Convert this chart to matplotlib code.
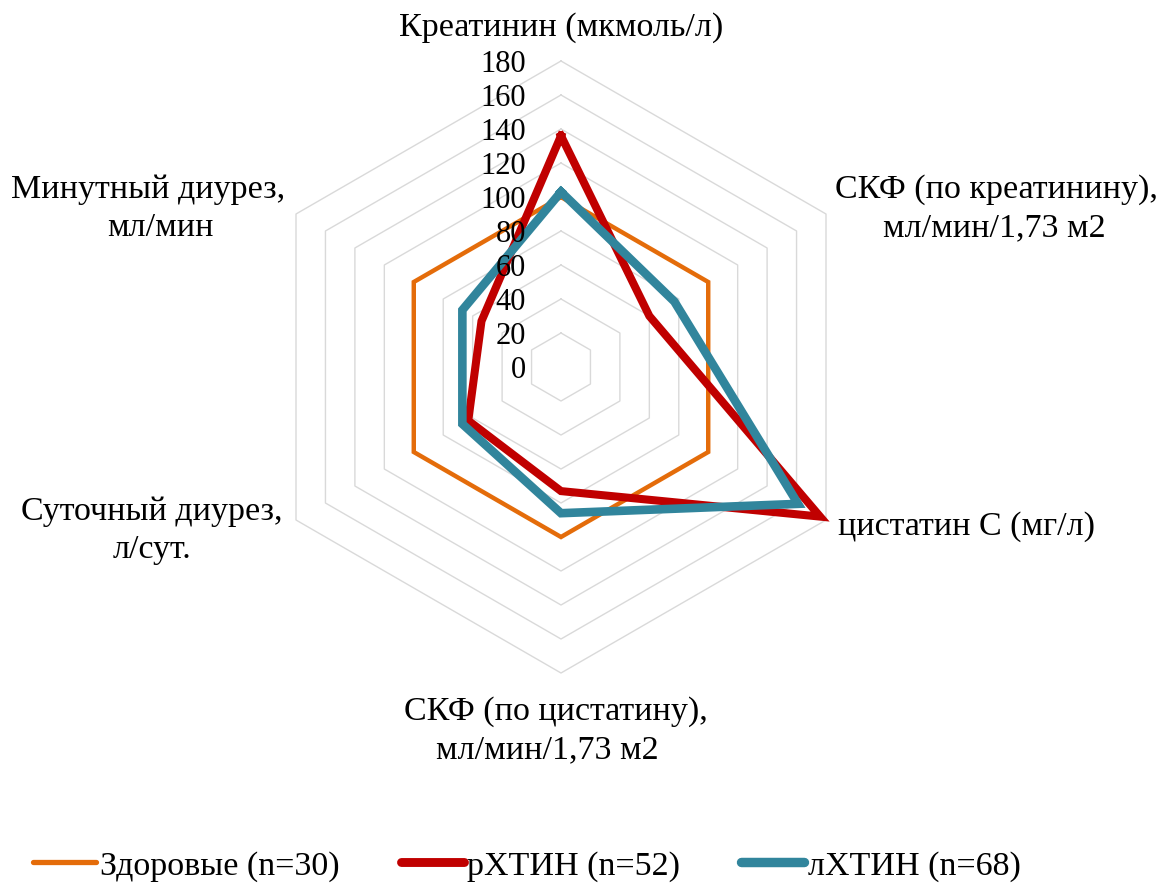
import numpy as np
import matplotlib.pyplot as plt
from matplotlib.lines import Line2D

plt.rcParams['font.family'] = ['Liberation Serif', 'DejaVu Serif']

categories = ['Креатинин (мкмоль/л)',
              'СКФ (по креатинину),\nмл/мин/1,73 м2',
              'цистатин С (мг/л)',
              'СКФ (по цистатину),\nмл/мин/1,73 м2',
              'Суточный диурез,\nл/сут.',
              'Минутный диурез,\nмл/мин']
healthy = [100, 100, 100, 100, 100, 100]
r_xtin = [136, 60, 176, 73, 63, 54]
l_xtin = [103, 77, 161, 86, 67, 67]
ticks = list(range(0, 181, 20))
names = ['Здоровые (n=30)', 'рХТИН (n=52)', 'лХТИН (n=68)']
colors = ['#E46C0A', '#C00000', '#31859C']
widths = [3.2, 5.8, 6.2]

W, H = 1159, 888
cx, cy = 561, 367       # centre of the web, pixels
scale = 1.7             # pixels per unit
fs = 24.5

fig = plt.figure(figsize=(W / 100, H / 100), dpi=100)
ax = fig.add_axes([0, 0, 1, 1])
ax.set_xlim(-cx / scale, (W - cx) / scale)
ax.set_ylim(-(H - cy) / scale, cy / scale)
ax.axis('off')


def px(x, y):
    return (x - cx) / scale, (cy - y) / scale


ang = np.deg2rad(90 - 60 * np.arange(7))


def poly(vals):
    v = np.r_[vals, vals[0]]
    return v * np.cos(ang), v * np.sin(ang)


# hexagon grid
for t in ticks[1:]:
    x, y = poly([t] * 6)
    ax.plot(x, y, color='#D9D9D9', lw=1.0, zorder=1)

# series
for vals, c, w in zip([healthy, r_xtin, l_xtin], colors, widths):
    x, y = poly(vals)
    ax.plot(x, y, color=c, lw=w, solid_joinstyle='miter', zorder=3)

# radial tick labels (drawn over the lines), digits centred on the ring
for t in ticks:
    ax.text(px(526, 0)[0], t - 2.3, str(t), ha='right', va='center',
            fontsize=22, zorder=4)

# category labels: (line, centre x, centre y) in pixels
label_lines = [
    [(categories[0], 561, 28)],
    [(categories[1].split('\n')[0], 996, 190), (categories[1].split('\n')[1], 994, 228)],
    [(categories[2], 838, 527)],
    [(categories[3].split('\n')[0], 556, 712), (categories[3].split('\n')[1], 547, 750)],
    [(categories[4].split('\n')[0], 152, 512), (categories[4].split('\n')[1], 152, 550)],
    [(categories[5].split('\n')[0], 148, 190), (categories[5].split('\n')[1], 160, 228)],
]
for i, lines in enumerate(label_lines):
    for s, x, y in lines:
        ax.text(*px(x, y), s, ha='left' if i == 2 else 'center', va='center',
                fontsize=fs)

handles = [Line2D([], [], color=c, lw=w + 0.6, solid_capstyle='round')
           for c, w in zip(colors, widths)]
fig.legend(handles, names, loc='center', bbox_to_anchor=(527 / W, 1 - 866 / H),
           ncol=3, frameon=False, fontsize=fs, handlelength=1.85,
           handletextpad=0.1, columnspacing=1.8)

fig.savefig('out.png', dpi=100)
